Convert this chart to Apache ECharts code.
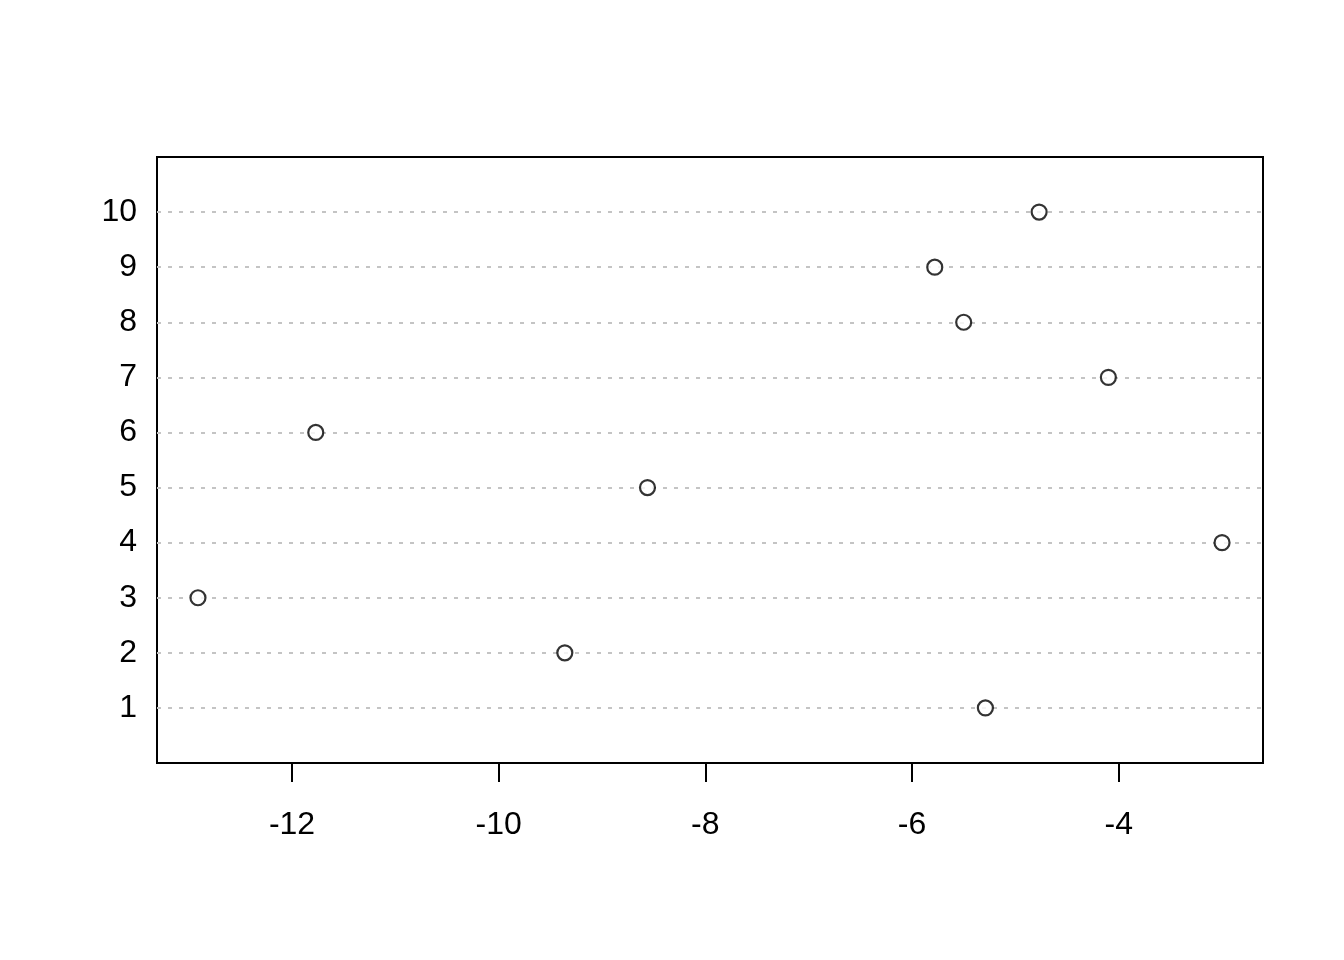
<!DOCTYPE html>
<html>
<head>
<meta charset="utf-8">
<script src="https://cdn.jsdelivr.net/npm/echarts@6/dist/echarts.min.js"></script>
<style>
  html, body { margin: 0; padding: 0; background: #fff; }
  #chart { width: 1344px; height: 960px; }
</style>
</head>
<body>
<div id="chart"></div>
<script>
// dotchart data, bottom row first
const rowLabels = ['1', '2', '3', '4', '5', '6', '7', '8', '9', '10']
const rowValues = [-5.29, -9.36, -12.91, -3.00, -8.56, -11.77, -4.10, -5.50, -5.78, -4.77]
const xTicks = [-12, -10, -8, -6, -4]

// R extends the data range by 4% on each side
const lo = Math.min(...rowValues)
const hi = Math.max(...rowValues)
const pad = (hi - lo) * 0.04

const font = '"Liberation Sans", Arial, Helvetica, sans-serif'
const chart = echarts.init(document.getElementById('chart'))

chart.setOption({
  backgroundColor: '#fff',
  animation: false,
  grid: {
    left: 157,
    top: 157,
    right: 81,
    bottom: 197,
    show: true,
    borderColor: '#000',
    borderWidth: 2,
    outerBoundsMode: 'none'
  },
  xAxis: {
    type: 'value',
    min: lo - pad,
    max: hi + pad,
    axisLine: { show: false },
    splitLine: { show: false },
    axisTick: {
      show: true,
      customValues: xTicks,
      length: 19,
      lineStyle: { color: '#000', width: 2 }
    },
    axisLabel: {
      customValues: xTicks,
      margin: 46,
      color: '#000',
      fontSize: 32,
      fontFamily: font
    }
  },
  yAxis: {
    type: 'value',
    min: 0,
    max: rowLabels.length + 1,
    interval: 1,
    axisLine: { show: false },
    axisTick: { show: false },
    splitLine: {
      show: true,
      showMinLine: false,
      showMaxLine: false,
      lineStyle: { color: '#c4c4c4', width: 2, type: [4, 7] }
    },
    axisLabel: {
      customValues: rowLabels.map((_, i) => i + 1),
      formatter: v => rowLabels[v - 1],
      margin: 20,
      color: '#000',
      fontSize: 32,
      fontFamily: font
    }
  },
  series: [
    {
      type: 'scatter',
      symbol: 'circle',
      symbolSize: 15,
      itemStyle: { color: '#fff', borderColor: '#000', borderWidth: 2.2 },
      data: rowValues.map((v, i) => [v, i + 1])
    }
  ]
})
</script>
</body>
</html>
